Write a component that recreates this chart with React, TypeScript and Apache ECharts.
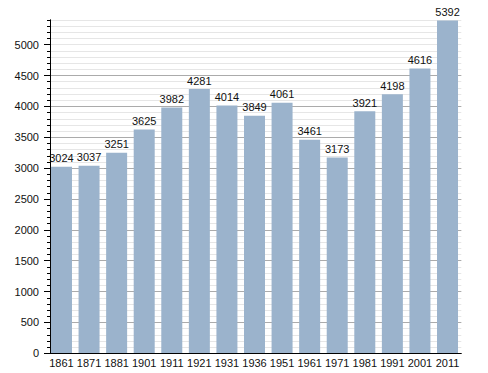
import React, { useEffect, useRef } from "react";
import * as echarts from "echarts";

const years = ["1861", "1871", "1881", "1901", "1911", "1921", "1931", "1936", "1951", "1961", "1971", "1981", "1991", "2001", "2011"];
const population = [3024, 3037, 3251, 3625, 3982, 4281, 4014, 3849, 4061, 3461, 3173, 3921, 4198, 4616, 5392];
const majorTicks = [0, 500, 1000, 1500, 2000, 2500, 3000, 3500, 4000, 4500, 5000];

export default function App() {
  const ref = useRef<HTMLDivElement>(null);
  useEffect(() => {
    if (!ref.current) return;
    const chart = echarts.init(ref.current, null, { renderer: "svg" });
    const font = "'Liberation Sans', Arial, sans-serif";
    chart.setOption({
      animation: false,
      backgroundColor: "#ffffff",
      grid: { left: 47.7, top: 20, width: 413.6, height: 333.3, containLabel: false },
      xAxis: {
        type: "category",
        data: years,
        axisLine: { lineStyle: { color: "#000", width: 1 } },
        axisTick: { show: false },
        axisLabel: { color: "#111", fontSize: 11, fontFamily: font, margin: 4, interval: 0 },
        z: 5,
      },
      yAxis: [
        {
          type: "value",
          position: "left",
          min: 0,
          max: 5400,
          interval: 100,
          offset: -2.3,
          axisLine: { show: true, lineStyle: { color: "#000" } },
          axisTick: { show: true, length: 3, lineStyle: { color: "#000" } },
          axisLabel: { show: false },
          splitLine: { show: true, showMinLine: false, lineStyle: { color: "#e6e6e6", width: 1 } },
          z: 1,
        },
        {
          type: "value",
          position: "left",
          min: 0,
          max: 5400,
          interval: 500,
          offset: -2.3,
          axisLine: { show: true, lineStyle: { color: "#000" } },
          axisTick: { show: true, length: 6, customValues: majorTicks, lineStyle: { color: "#000" } },
          axisLabel: {
            show: true,
            customValues: majorTicks,
            formatter: (v: number) => String(v),
            color: "#111",
            fontSize: 11,
            fontFamily: font,
            margin: 11,
          },
          splitLine: { show: true, showMinLine: false, showMaxLine: false, lineStyle: { color: "#ababab", width: 1 } },
          z: 2,
        },
      ],
      series: [
        {
          type: "bar",
          data: population,
          yAxisIndex: 0,
          barWidth: 21,
          itemStyle: { color: "#9bb3cc" },
          label: {
            show: true,
            position: "top",
            distance: 3,
            color: "#111",
            fontSize: 11,
            fontFamily: font,
          },
          z: 3,
        },
      ],
    });
    return () => chart.dispose();
  }, []);
  return <div ref={ref} style={{ position: "fixed", left: 0, top: 0, width: 488, height: 373 }} />;
}
